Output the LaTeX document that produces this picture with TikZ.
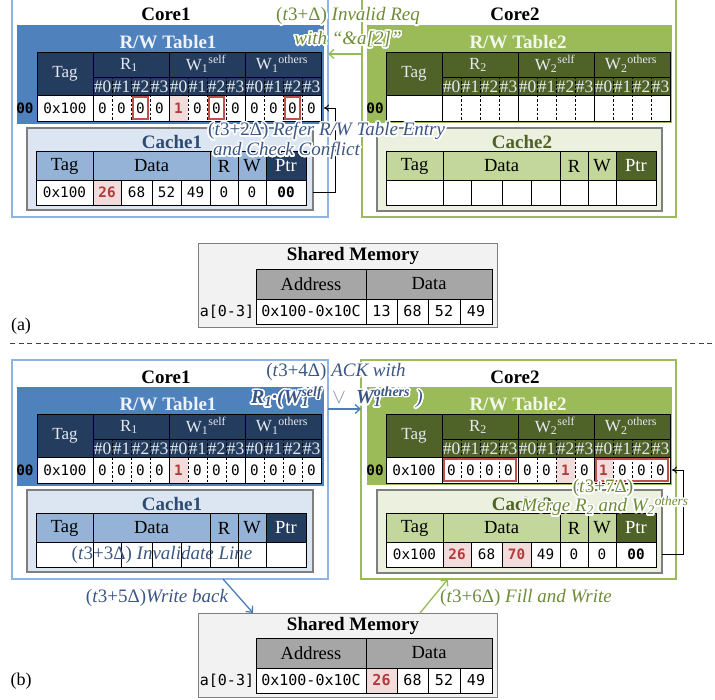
\documentclass[tikz,border=0pt]{standalone}
\usepackage{fontspec}
\setmainfont{Liberation Serif}
\setmonofont{DejaVu Sans Mono}
\usepackage{contour}
\contourlength{1.5pt}
\contournumber{32}
\usetikzlibrary{arrows.meta}

\definecolor{coreBlue}{HTML}{8EB4E3}
\definecolor{rwBlue}{HTML}{4F81BD}
\definecolor{navyHead}{HTML}{243C5E}
\definecolor{cacheBlueFill}{HTML}{DCE6F2}
\definecolor{cacheBlueHead}{HTML}{95B3D7}
\definecolor{cacheBlueTitle}{HTML}{2E4A72}
\definecolor{coreGreen}{HTML}{9BBB59}
\definecolor{rwGreen}{HTML}{9BBB59}
\definecolor{darkGreen}{HTML}{4F6228}
\definecolor{cacheGreenFill}{HTML}{EBF1DE}
\definecolor{cacheGreenHead}{HTML}{C3D69B}
\definecolor{pinkFill}{HTML}{F2DCDB}
\definecolor{redText}{HTML}{B23A3A}
\definecolor{redBox}{HTML}{C0504D}
\definecolor{memFill}{HTML}{F2F2F2}
\definecolor{memHead}{HTML}{A6A6A6}
\definecolor{boxGray}{HTML}{7F7F7F}
\definecolor{annBlue}{HTML}{3A5783}
\definecolor{annGreen}{HTML}{6E8C38}
\definecolor{arrowBlue}{HTML}{4A7EBB}
\definecolor{arrowGreen}{HTML}{92BC55}
\definecolor{headText}{HTML}{E6EAF0}
\definecolor{titleBlue}{HTML}{EEF3FA}
\definecolor{titleGreen}{HTML}{F4F8EC}
\definecolor{sepGray}{HTML}{404040}

\newcommand\tstamp[1]{{\upshape(\textit{t}3+#1Δ)}}
\newcommand\hl[1]{\textcolor{redText}{\bfseries #1}}
\newcommand\halo[1]{\contour{white}{#1}}

\tikzset{
  lw/.style={line width=0.9pt},
  sepl/.style={line width=0.6pt, dash pattern=on 2.5pt off 2pt},
  bx/.style={anchor=north west, inner sep=0pt, outer sep=0pt},
  coretitle/.style={font=\bfseries\fontsize{19}{21}\selectfont, inner sep=0pt},
  hd/.style={font=\fontsize{17}{19}\selectfont, inner sep=0pt, text=headText},
  subh/.style={font=\fontsize{17.5}{19}\selectfont, inner sep=0pt, text=headText},
  val/.style={font=\ttfamily\fontsize{14.3}{16}\selectfont, inner sep=0pt},
  ptrl/.style={font=\ttfamily\bfseries\fontsize{14.3}{16}\selectfont, inner sep=0pt},
  mval/.style={font=\ttfamily\fontsize{15}{17}\selectfont, inner sep=0pt},
  chd/.style={font=\fontsize{18.5}{20}\selectfont, inner sep=0pt},
  ann/.style={font=\itshape\fontsize{19}{21}\selectfont, inner sep=0pt},
  annbf/.style={font=\itshape\fontsize{20}{22}\selectfont, inner sep=0pt},
  lbl/.style={font=\fontsize{18}{20}\selectfont, inner sep=0pt},
  redbox/.style={draw=redBox, line width=2.3pt},
  blk/.style={-{To[length=5pt,width=7pt]}, line width=0.9pt},
  barr/.style={-{Straight Barb[length=5pt,width=9pt]}, draw=arrowBlue, line width=1.3pt},
  garr/.style={-{Straight Barb[length=5pt,width=9pt]}, draw=arrowGreen, line width=1.3pt},
  sepdash/.style={draw=sepGray, line width=0.9pt, dash pattern=on 5pt off 3.5pt},
}

% R/W table
\newcommand\RWTbg[3]{%
  \fill[#3] (#1,#2) rectangle ++(284,43);
  \fill[white] (#1,#2+43) rectangle ++(284,26);}
\newcommand\pinkRW[3]{\fill[pinkFill] (#1+56+19*#3,#2+43) rectangle ++(19,26);}
\newcommand\redRW[4]{\draw[redbox] (#1+57.8+19*#3,#2+44.8) rectangle (#1+54.2+19*#4+19,#2+67.2);}
\newcommand\RWTfg[6]{%
  \draw[lw] (#2,#3) rectangle ++(284,69);
  \draw[lw] (#2+56,#3) -- ++(0,69);
  \draw[lw] (#2+132,#3) -- ++(0,69);
  \draw[lw] (#2+208,#3) -- ++(0,69);
  \draw[lw] (#2+56,#3+25) -- ++(228,0);
  \draw[lw] (#2,#3+43) -- ++(284,0);
  \foreach \j in {1,2,3,5,6,7,9,10,11}{\draw[sepl] (#2+56+19*\j,#3+25) -- ++(0,44);}
  \node[hd] (#1-tag) at (#2+28,#3+21.5) {Tag};
  \node[hd] (#1-r) at (#2+92,#3+13) {R\textsubscript{#4}};
  \node[hd] (#1-ws) at (#2+169,#3+12) {W\textsubscript{#4}\textsuperscript{self}};
  \node[hd] (#1-wo) at (#2+245,#3+12) {W\textsubscript{#4}\textsuperscript{others}};
  \foreach \j in {0,...,11}{\pgfmathtruncatemacro\k{mod(\j,4)}%
    \node[subh] (#1-h\j) at (#2+65.5+19*\j,#3+34.5) {\#\k};}
  \node[val] (#1-tv) at (#2+28,#3+56) {#5};
  \foreach \v [count=\j from 0] in {#6}{\node[val] (#1-d\j) at (#2+65.5+19*\j,#3+56) {\v};}
}

% cache table
\newcommand\CTbg[4]{%
  \fill[#3] (#1,#2) rectangle ++(230,29);
  \fill[#4] (#1+230,#2) rectangle ++(40,29);
  \fill[white] (#1,#2+29) rectangle ++(270,25);}
\newcommand\pinkbox[4]{\fill[pinkFill] (#1,#2) rectangle (#3,#4);}
\newcommand\CTfg[4]{%
  \draw[lw] (#2,#3) rectangle ++(270,54);
  \draw[lw] (#2,#3+29) -- ++(270,0);
  \foreach \c in {57,174,202,230}{\draw[lw] (#2+\c,#3) -- ++(0,54);}
  \foreach \c in {85,116,145}{\draw[lw] (#2+\c,#3+29) -- ++(0,25);}
  \node[chd] (#1-tag) at (#2+28.5,#3+15) {Tag};
  \node[chd] (#1-data) at (#2+115.5,#3+15) {Data};
  \node[chd] (#1-r) at (#2+188,#3+15) {R};
  \node[chd] (#1-w) at (#2+216,#3+15) {W};
  \node[chd,text=white] (#1-ptr) at (#2+250,#3+15) {Ptr};
  \foreach \v [count=\j] in {#4}{\pgfmathsetmacro\cx{{28.5,71,100.5,130.5,159.5,188,216,250}[\j-1]}%
    \node[val] (#1-v\j) at (#2+\cx,#3+41.5) {\v};}
}

% shared memory table
\newcommand\MEMbg[2]{%
  \fill[memHead] (#1,#2) rectangle ++(236,30);
  \fill[white] (#1,#2+30) rectangle ++(236,25);}
\newcommand\MEMfg[4]{%
  \draw[lw] (#2,#3) rectangle ++(236,55);
  \draw[lw] (#2,#3+30) -- ++(236,0);
  \draw[lw] (#2+110,#3) -- ++(0,55);
  \foreach \c in {141,172,204}{\draw[lw] (#2+\c,#3+30) -- ++(0,25);}
  \node[chd] (#1-addr) at (#2+55,#3+15) {Address};
  \node[chd] (#1-data) at (#2+173,#3+15) {Data};
  \node[mval] (#1-av) at (#2+55,#3+42.5) {0x100-0x10C};
  \foreach \v [count=\j] in {#4}{\pgfmathsetmacro\cx{{125.5,156.5,188,220}[\j-1]}%
    \node[mval] (#1-v\j) at (#2+\cx,#3+42.5) {\v};}
}

\begin{document}
\begin{tikzpicture}[x=1pt,y=-1pt]
\useasboundingbox (0,0) rectangle (715,700);

%%%%%%%%%%%%%%%%%%%% (a)
\node[bx, draw=coreBlue, line width=1.5pt, minimum width=316pt, minimum height=219pt] (core1a) at (12,-2) {};
\node[bx, draw=coreGreen, line width=1.5pt, minimum width=314pt, minimum height=219pt] (core2a) at (362,-2) {};
\node[coretitle] (core1a-t) at (166,14) {Core1};
\node[coretitle] (core2a-t) at (515,14) {Core2};

\node[bx, fill=rwBlue, minimum width=307pt, minimum height=99pt] (rw1a) at (17,25) {};
\node[bx, fill=rwGreen, minimum width=305pt, minimum height=98pt] (rw2a) at (367,25) {};
\node[coretitle, text=titleBlue] (rw1a-t) at (168,42) {R/W Table1};
\node[coretitle, text=titleGreen] (rw2a-t) at (518,42) {R/W Table2};
\node[ptrl] (p1a) at (25,108) {00};
\node[ptrl] (p2a) at (375,108) {00};

\RWTbg{37}{52}{navyHead}
\pinkRW{37}{52}{4}
\RWTfg{t1a}{37}{52}{1}{0x100}{0,0,0,0,\hl{1},0,0,0,0,0,0,0}
\redRW{37}{52}{2}{2}
\redRW{37}{52}{6}{6}
\redRW{37}{52}{10}{10}

\RWTbg{386}{52}{darkGreen}
\RWTfg{t2a}{386}{52}{2}{}{{}}

\node[bx, fill=cacheBlueFill, draw=boxGray, line width=1.5pt, minimum width=286pt, minimum height=82pt] (cache1a) at (27,128) {};
\node[coretitle, text=cacheBlueTitle] (cache1a-t) at (172,142) {Cache1};
\CTbg{36}{151}{cacheBlueHead}{navyHead}
\pinkbox{93}{180}{121}{205}
\CTfg{c1a}{36}{151}{0x100,\hl{26},68,52,49,0,0,\textbf{00}}

\node[bx, fill=cacheGreenFill, draw=boxGray, line width=1.5pt, minimum width=285pt, minimum height=83pt] (cache2a) at (377,128) {};
\node[coretitle, text=darkGreen] (cache2a-t) at (522,142) {Cache2};
\CTbg{386}{151}{cacheGreenHead}{darkGreen}
\CTfg{c2a}{386}{151}{{}}

\node[bx, fill=memFill, draw=boxGray, line width=1pt, minimum width=299pt, minimum height=84pt] (mema) at (198,244) {};
\node[coretitle] (mema-t) at (353,256) {Shared Memory};
\MEMbg{256}{269}
\MEMfg{ma}{256}{269}{13,68,52,49}
\node[mval] (ma-lbl) at (227,311.5) {a[0-3]};

\draw[sepdash] (10,343) -- (712,343);
\node[lbl] (la) at (21,326) {(a)};

% arrows (a)
\coordinate (gay) at (345,54);
\draw[garr] (core2a.west |- gay) -- (core1a.east |- gay);
\node[ann, text=annGreen] (ann1a) at (348,17) {\halo{\tstamp{} Invalid Req}};
\node[ann, text=annGreen] (ann1b) at (348,40) {\halo{with “\&a[2]”}};
\draw[blk] (cache1a.east |- c1a-v8) -- ++(22,0) |- (rw1a.east |- t1a-d11);
\node[ann, text=annBlue, anchor=west] (ann2a) at (208,132) {\halo{\tstamp{2} Refer R/W Table Entry}};
\node[ann, text=annBlue, anchor=west] (ann2b) at (213,152) {\halo{and Check Conflict}};

%%%%%%%%%%%%%%%%%%%% (b)
\node[bx, draw=coreBlue, line width=1.5pt, minimum width=316pt, minimum height=219pt] (core1b) at (12,360) {};
\node[bx, draw=coreGreen, line width=1.5pt, minimum width=315pt, minimum height=219pt] (core2b) at (361,360) {};
\node[coretitle] (core1b-t) at (166,377) {Core1};
\node[coretitle] (core2b-t) at (515,377) {Core2};

\node[bx, fill=rwBlue, minimum width=307pt, minimum height=99pt] (rw1b) at (17,387) {};
\node[bx, fill=rwGreen, minimum width=305pt, minimum height=98pt] (rw2b) at (367,387) {};
\node[coretitle, text=titleBlue] (rw1b-t) at (168,404) {R/W Table1};
\node[coretitle, text=titleGreen] (rw2b-t) at (518,404) {R/W Table2};
\node[ptrl] (p1b) at (25,470) {00};
\node[ptrl] (p2b) at (375,470) {00};

\RWTbg{37}{414}{navyHead}
\pinkRW{37}{414}{4}
\RWTfg{t1b}{37}{414}{1}{0x100}{0,0,0,0,\hl{1},0,0,0,0,0,0,0}

\RWTbg{386}{414}{darkGreen}
\pinkRW{386}{414}{6}
\pinkRW{386}{414}{8}
\RWTfg{t2b}{386}{414}{2}{0x100}{0,0,0,0,0,0,\hl{1},0,\hl{1},0,0,0}
\redRW{386}{414}{0}{3}
\redRW{386}{414}{8}{11}

\node[bx, fill=cacheBlueFill, draw=boxGray, line width=1.5pt, minimum width=286pt, minimum height=82pt] (cache1b) at (27,490) {};
\node[coretitle, text=cacheBlueTitle] (cache1b-t) at (172,504) {Cache1};
\CTbg{36}{513}{cacheBlueHead}{navyHead}
\CTfg{c1b}{36}{513}{{}}
\node[ann, text=annBlue] (ann3) at (162,554.5) {\tstamp{3} Invalidate Line};

\node[bx, fill=cacheGreenFill, draw=boxGray, line width=1.5pt, minimum width=285pt, minimum height=83pt] (cache2b) at (377,490) {};
\node[coretitle, text=darkGreen] (cache2b-t) at (522,504) {Cache2};
\CTbg{386}{513}{cacheGreenHead}{darkGreen}
\pinkbox{443}{542}{471}{567}
\pinkbox{502}{542}{531}{567}
\CTfg{c2b}{386}{513}{0x100,\hl{26},68,\hl{70},49,0,0,\textbf{00}}

\node[bx, fill=memFill, draw=boxGray, line width=1pt, minimum width=299pt, minimum height=84pt] (memb) at (198,613) {};
\node[coretitle] (memb-t) at (353,626) {Shared Memory};
\MEMbg{256}{638}
\pinkbox{366}{668}{397}{693}
\MEMfg{mb}{256}{638}{\hl{26},68,52,49}
\node[mval] (mb-lbl) at (227,680.5) {a[0-3]};
\node[lbl] (lb) at (21,681) {(b)};

% arrows (b)
\coordinate (acky) at (345,409);
\draw[barr] (core1b.east |- acky) -- (core2b.west |- acky);
\node[ann, text=annBlue] (ann4a) at (336,373) {\halo{\tstamp{4} ACK with}};
\node[annbf, text=annBlue] (ann4b) at (337,398) {\halo{\bfseries R\textsubscript{1}·(W\rlap{\textsubscript{1}}\textsuperscript{self}}\hspace{10pt}\textcolor{annBlue!65}{$\vee$}\hspace{10pt}\halo{\bfseries W\rlap{\textsubscript{1}}\textsuperscript{others}}\hspace{6pt}\halo{)}};

\draw[blk] (cache2b.east |- c2b-v8) -- ++(21,0) |- (rw2b.east |- t2b-d11);
\node[ann, text=annGreen] (ann7a) at (603,489) {\halo{\tstamp{7}}};
\node[ann, text=annGreen] (ann7b) at (605,507) {\halo{Merge R\textsubscript{2} and W\textsubscript{2}\textsuperscript{others}}};

\coordinate (wbx1) at (223,0);
\coordinate (wbx2) at (253,0);
\draw[barr] (core1b.south -| wbx1) -- (memb.north -| wbx2);
\node[ann, text=annBlue] (ann5) at (157,598) {\tstamp{5}Write back};

\coordinate (fx1) at (420,0);
\coordinate (fx2) at (448,0);
\draw[garr] (memb.north -| fx1) -- (core2b.south -| fx2);
\node[ann, text=annGreen, anchor=west] (ann6) at (440,598) {\tstamp{6} Fill and Write};

\end{tikzpicture}
\end{document}
